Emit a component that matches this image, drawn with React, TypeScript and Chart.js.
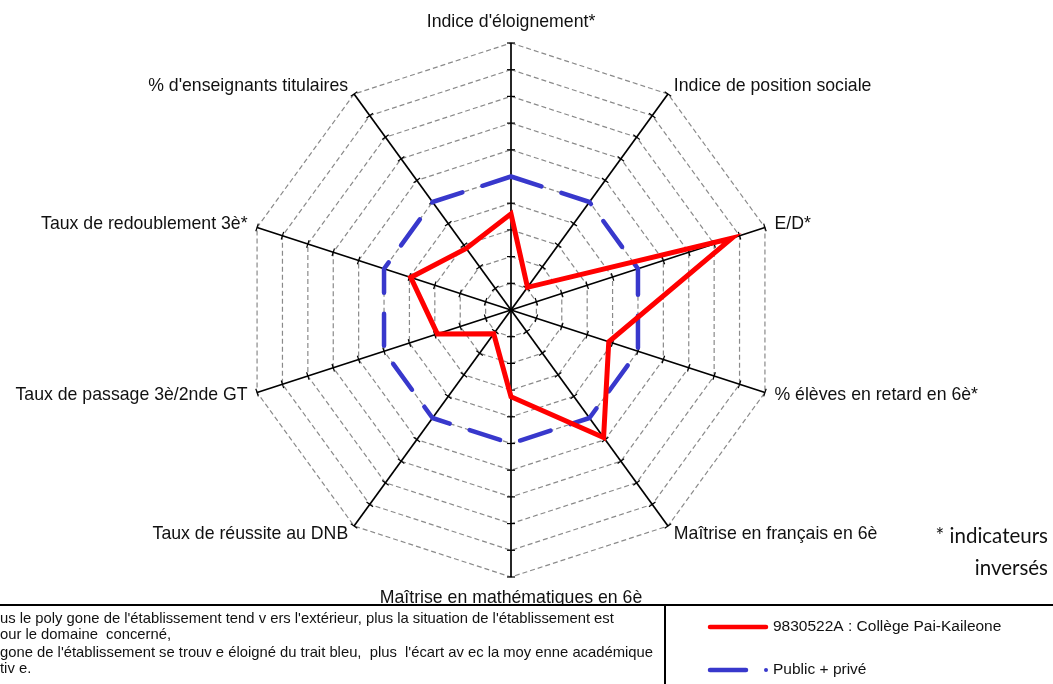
import React, { useEffect, useRef } from "react";
import { Chart, registerables } from "chart.js";

Chart.register(...registerables);

const axisLabels = [
  "Indice d'éloignement*",
  "Indice de position sociale",
  "E/D*",
  "% élèves en retard en 6è*",
  "Maîtrise en français en 6è",
  "Maîtrise en mathématiques en 6è",
  "Taux de réussite au DNB",
  "Taux de passage 3è/2nde GT",
  "Taux de redoublement 3è*",
  "% d'enseignants titulaires",
];

const collegeValues = [3.6, 1.05, 8.7, 3.85, 5.9, 3.25, 1.1, 2.9, 3.95, 2.85];
const averageValues = [5, 5, 5, 5, 5, 5, 5, 5, 5, 5];
const seriesNames = ["9830522A : Collège Pai-Kaileone", "Public + privé"];
const scaleMin = 0;
const scaleMax = 10;
const scaleStep = 1;

const noteLines = [
  "us le poly gone de l'établissement tend v ers l'extérieur, plus la situation de l'établissement est",
  "our le domaine  concerné,",
  "gone de l'établissement se trouv e éloigné du trait bleu,  plus  l'écart av ec la moy enne académique",
  "tiv e.",
];
const footnoteLines = ["* indicateurs", "inversés"];

const RED = "#ff0000";
const BLUE = "#3838cc";
const LABEL_FONT = '17.7px "Liberation Sans", Arial, sans-serif';

const decorPlugin = {
  id: "decor",
  beforeDatasetsDraw(chart: any) {
    const scale = chart.scales.r;
    const ctx = chart.ctx;
    ctx.save();
    ctx.strokeStyle = "#000";
    ctx.lineWidth = 1.2;
    for (let i = 0; i < axisLabels.length; i++) {
      for (let v = scaleMin + scaleStep; v <= scaleMax; v += scaleStep) {
        const p = scale.getPointPosition(i, scale.getDistanceFromCenterForValue(v));
        const a = p.angle;
        const px = -Math.sin(a);
        const py = Math.cos(a);
        ctx.beginPath();
        ctx.moveTo(p.x - px * 4, p.y - py * 4);
        ctx.lineTo(p.x + px * 4, p.y + py * 4);
        ctx.stroke();
      }
    }
    ctx.restore();
  },
  afterDraw(chart: any) {
    const scale = chart.scales.r;
    const ctx = chart.ctx;
    const W = chart.width;
    const H = chart.height;
    ctx.save();
    // axis labels
    ctx.fillStyle = "#111";
    ctx.font = LABEL_FONT;
    ctx.textBaseline = "middle";
    const n = axisLabels.length;
    for (let i = 0; i < n; i++) {
      const deg = (i * 360) / n;
      let r = scale.drawingArea + 10;
      let align: CanvasTextAlign = "left";
      if (deg === 0 || deg === 180) {
        r = scale.drawingArea + 21;
        align = "center";
      } else if (deg > 180) {
        align = "right";
      }
      const p = scale.getPointPosition(i, r);
      ctx.textAlign = align;
      ctx.fillText(axisLabels[i], p.x, p.y);
    }

    // bottom box
    const boxTop = 605;
    const divX = 665;
    ctx.fillStyle = "#fff";
    ctx.fillRect(0, boxTop, W, H - boxTop);
    ctx.strokeStyle = "#000";
    ctx.lineWidth = 2;
    ctx.beginPath();
    ctx.moveTo(0, boxTop);
    ctx.lineTo(W, boxTop);
    ctx.moveTo(divX, boxTop);
    ctx.lineTo(divX, H);
    ctx.stroke();

    // note text
    ctx.fillStyle = "#111";
    ctx.font = '14.8px "Liberation Sans", Arial, sans-serif';
    ctx.textAlign = "left";
    const noteY = [619, 635, 653, 669];
    noteLines.forEach((t, k) => ctx.fillText(t, 0, noteY[k]));

    // legend
    ctx.lineCap = "round";
    ctx.lineWidth = 4.5;
    ctx.strokeStyle = RED;
    ctx.beginPath();
    ctx.moveTo(710, 627);
    ctx.lineTo(766, 627);
    ctx.stroke();
    ctx.strokeStyle = BLUE;
    ctx.beginPath();
    ctx.moveTo(710, 670);
    ctx.lineTo(746, 670);
    ctx.stroke();
    ctx.fillStyle = BLUE;
    ctx.beginPath();
    ctx.arc(766, 670, 2, 0, Math.PI * 2);
    ctx.fill();
    ctx.fillStyle = "#111";
    ctx.font = '15.5px "Liberation Sans", Arial, sans-serif';
    ctx.fillText(seriesNames[0], 773, 627);
    ctx.fillText(seriesNames[1], 773, 670);

    // footnote
    ctx.font = '20.5px Lato, "Open Sans", sans-serif';
    ctx.textAlign = "right";
    ctx.fillText(footnoteLines[0], 1048, 536);
    ctx.fillText(footnoteLines[1], 1048, 568);
    ctx.restore();
  },
};

export default function App() {
  const ref = useRef<HTMLCanvasElement | null>(null);
  useEffect(() => {
    if (!ref.current) return;
    const chart = new Chart(ref.current, {
      type: "radar",
      data: {
        labels: axisLabels,
        datasets: [
          {
            label: seriesNames[0],
            data: collegeValues,
            borderColor: RED,
            backgroundColor: "transparent",
            borderWidth: 5,
            borderJoinStyle: "miter",
            fill: false,
            pointRadius: 0,
          },
          {
            label: seriesNames[1],
            data: averageValues,
            borderColor: BLUE,
            backgroundColor: "transparent",
            borderWidth: 4.5,
            borderDash: [32, 21],
            borderCapStyle: "round",
            borderJoinStyle: "round",
            fill: false,
            pointRadius: 0,
          },
        ],
      },
      options: {
        responsive: false,
        animation: false,
        devicePixelRatio: 1,
        layout: { padding: { left: 244, right: 275, top: 43, bottom: 107 } },
        plugins: {
          legend: { display: false },
          tooltip: { enabled: false },
        },
        elements: { line: { tension: 0 }, point: { radius: 0 } },
        scales: {
          r: {
            min: scaleMin,
            max: scaleMax,
            ticks: { display: false, stepSize: scaleStep },
            pointLabels: { display: false },
            grid: { color: "#8a8a8a", lineWidth: 1.2, circular: false },
            border: { dash: [5, 3] },
            angleLines: { color: "#000", lineWidth: 1.7 },
          },
        },
      },
      plugins: [decorPlugin],
    } as any);
    return () => chart.destroy();
  }, []);
  return (
    <div style={{ position: "fixed", left: 0, top: 0, width: 1053, height: 684, background: "#fff" }}>
      <canvas ref={ref} width={1053} height={684} style={{ display: "block" }} />
    </div>
  );
}
